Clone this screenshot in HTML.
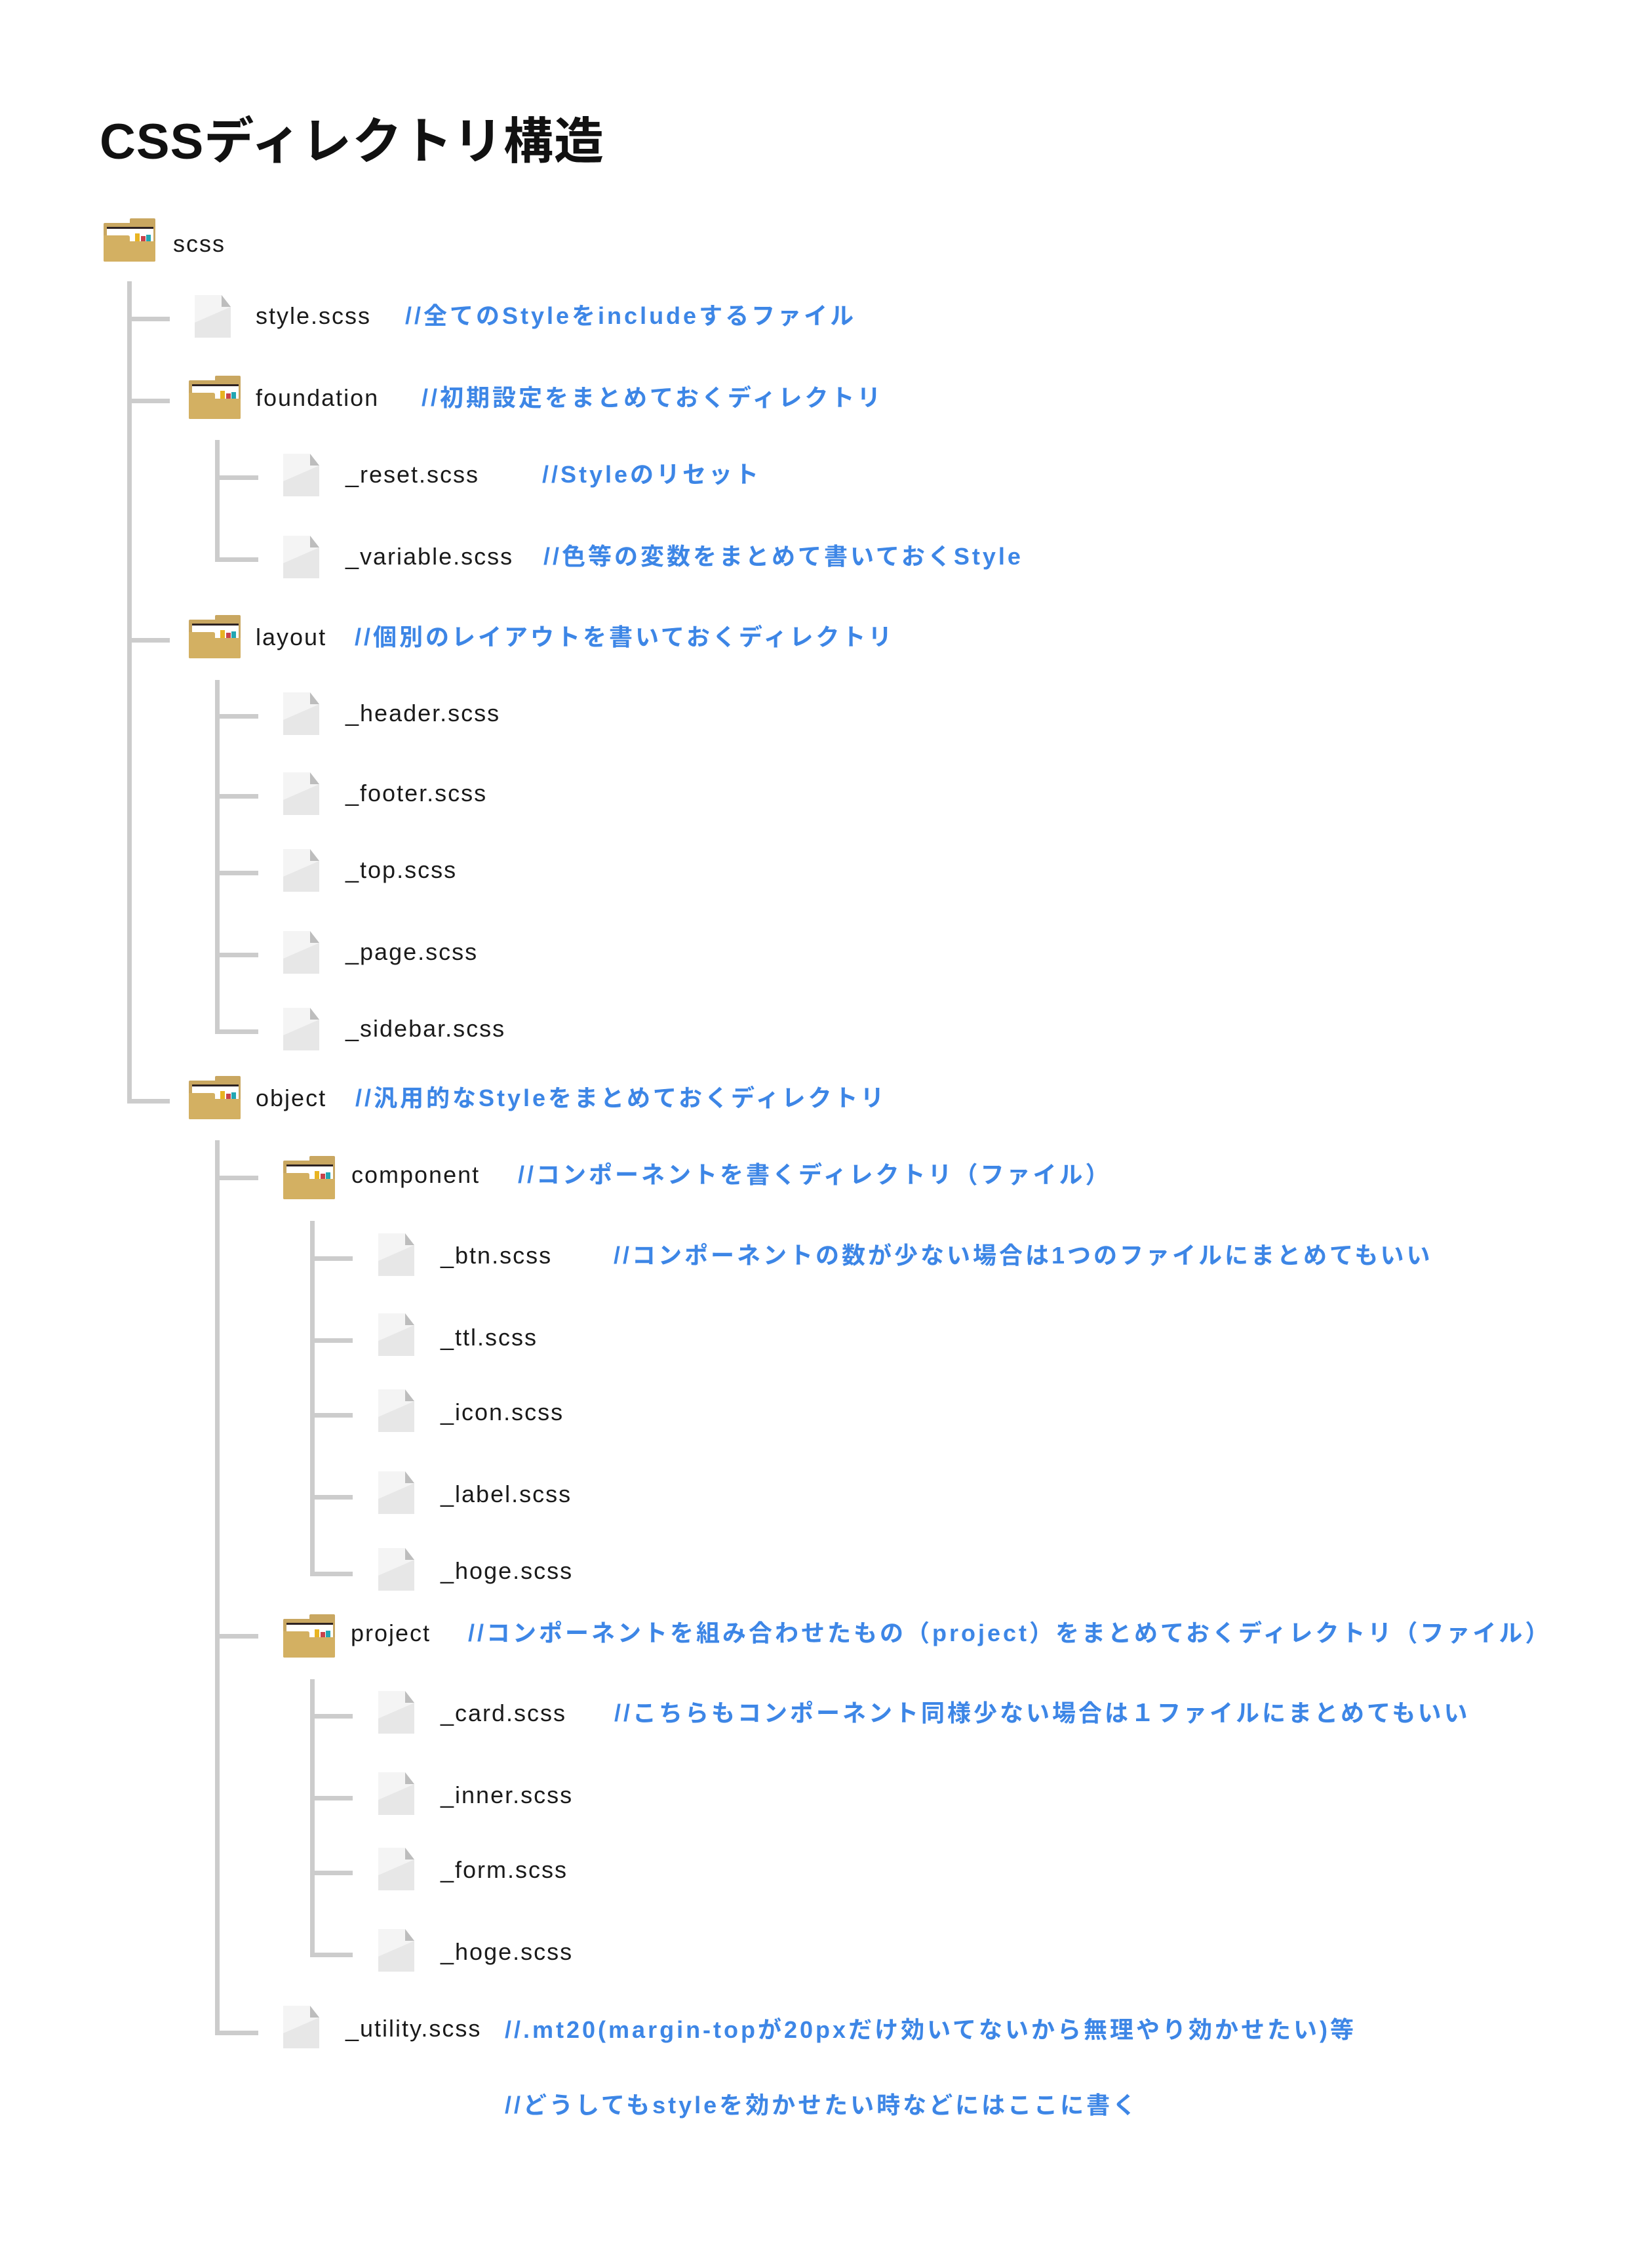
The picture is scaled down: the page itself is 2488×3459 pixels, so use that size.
<!DOCTYPE html>
<html><head><meta charset="utf-8"><style>
html,body{margin:0;padding:0;background:#fff;}
svg{display:block;}
.t{font-family:"Liberation Sans","Noto Sans CJK JP",sans-serif;font-size:36px;letter-spacing:2px;fill:#1a1a1a;}
.c{font-family:"Liberation Sans","Noto Sans CJK JP",sans-serif;font-size:36px;font-weight:bold;letter-spacing:4px;fill:#3d86e6;}
.h{font-family:"Liberation Sans","Noto Sans CJK JP",sans-serif;font-size:76px;font-weight:bold;letter-spacing:1px;fill:#111;}
.ln{fill:#cccccc;}
</style></head><body>
<svg width="2488" height="3459" viewBox="0 0 2488 3459" xmlns="http://www.w3.org/2000/svg">
<defs>
<g id="fold">
<rect x="40" y="0" width="39" height="12" rx="2" fill="#c9a761"/>
<rect x="0" y="7" width="79" height="59" rx="2" fill="#c9a761"/>
<rect x="5" y="13" width="71" height="3" fill="#2d2222"/>
<rect x="5" y="16" width="71" height="20" fill="#fff"/>
<rect x="48" y="23" width="7" height="13" fill="#e8b422"/>
<rect x="57" y="27" width="7" height="9" fill="#c8424a"/>
<rect x="65" y="25" width="7" height="11" fill="#22a6b3"/>
<path d="M0 26 H37 Q40 26 40 29 V35 H79 V64 Q79 66 77 66 H2 Q0 66 0 64 Z" fill="#d3b062"/>
</g>
<g id="file">
<path d="M0 0 H41 L55 18 V65 H0 Z" fill="#f4f4f4"/>
<path d="M0 42 L55 18 V65 H0 Z" fill="#e7e7e7"/>
<path d="M41 0 L41 18 L55 18 Z" fill="#bdbdbd"/>
</g>
</defs>

<text class="h" x="152" y="242">CSSディレクトリ構造</text>

<rect class="ln" x="194" y="429" width="7" height="1254"/>
<rect class="ln" x="328" y="671" width="7" height="186"/>
<rect class="ln" x="328" y="1037" width="7" height="540"/>
<rect class="ln" x="328" y="1739" width="7" height="1365"/>
<rect class="ln" x="473" y="1862" width="7" height="542"/>
<rect class="ln" x="473" y="2561" width="7" height="424"/>

<use href="#fold" x="158" y="333"/>
<text class="t" x="264" y="384">scss</text>

<rect class="ln" x="194" y="483" width="65" height="7"/>
<use href="#file" x="297" y="450"/>
<text class="t" x="390" y="494">style.scss</text>
<text class="c" x="618" y="494">//全てのStyleをincludeするファイル</text>

<rect class="ln" x="194" y="608" width="65" height="7"/>
<use href="#fold" x="288" y="573"/>
<text class="t" x="390" y="619">foundation</text>
<text class="c" x="643" y="619">//初期設定をまとめておくディレクトリ</text>

<rect class="ln" x="328" y="725" width="66" height="7"/>
<use href="#file" x="432" y="692"/>
<text class="t" x="527" y="736">_reset.scss</text>
<text class="c" x="827" y="736">//Styleのリセット</text>

<rect class="ln" x="328" y="850" width="66" height="7"/>
<use href="#file" x="432" y="817"/>
<text class="t" x="527" y="861">_variable.scss</text>
<text class="c" x="829" y="861">//色等の変数をまとめて書いておくStyle</text>

<rect class="ln" x="194" y="973" width="65" height="7"/>
<use href="#fold" x="288" y="938"/>
<text class="t" x="390" y="984">layout</text>
<text class="c" x="541" y="984">//個別のレイアウトを書いておくディレクトリ</text>

<rect class="ln" x="328" y="1089" width="66" height="7"/>
<use href="#file" x="432" y="1056"/>
<text class="t" x="527" y="1100">_header.scss</text>

<rect class="ln" x="328" y="1211" width="66" height="7"/>
<use href="#file" x="432" y="1178"/>
<text class="t" x="527" y="1222">_footer.scss</text>

<rect class="ln" x="328" y="1328" width="66" height="7"/>
<use href="#file" x="432" y="1295"/>
<text class="t" x="527" y="1339">_top.scss</text>

<rect class="ln" x="328" y="1453" width="66" height="7"/>
<use href="#file" x="432" y="1420"/>
<text class="t" x="527" y="1464">_page.scss</text>

<rect class="ln" x="328" y="1570" width="66" height="7"/>
<use href="#file" x="432" y="1537"/>
<text class="t" x="527" y="1581">_sidebar.scss</text>

<rect class="ln" x="194" y="1676" width="65" height="7"/>
<use href="#fold" x="288" y="1641"/>
<text class="t" x="390" y="1687">object</text>
<text class="c" x="542" y="1687">//汎用的なStyleをまとめておくディレクトリ</text>

<rect class="ln" x="328" y="1793" width="66" height="7"/>
<use href="#fold" x="432" y="1763"/>
<text class="t" x="536" y="1804">component</text>
<text class="c" x="790" y="1804">//コンポーネントを書くディレクトリ（ファイル）</text>

<rect class="ln" x="473" y="1916" width="65" height="7"/>
<use href="#file" x="577" y="1881"/>
<text class="t" x="672" y="1927">_btn.scss</text>
<text class="c" x="936" y="1927">//コンポーネントの数が少ない場合は1つのファイルにまとめてもいい</text>

<rect class="ln" x="473" y="2041" width="65" height="7"/>
<use href="#file" x="577" y="2003"/>
<text class="t" x="672" y="2052">_ttl.scss</text>

<rect class="ln" x="473" y="2155" width="65" height="7"/>
<use href="#file" x="577" y="2119"/>
<text class="t" x="672" y="2166">_icon.scss</text>

<rect class="ln" x="473" y="2280" width="65" height="7"/>
<use href="#file" x="577" y="2244"/>
<text class="t" x="672" y="2291">_label.scss</text>

<rect class="ln" x="473" y="2397" width="65" height="7"/>
<use href="#file" x="577" y="2361"/>
<text class="t" x="672" y="2408">_hoge.scss</text>

<rect class="ln" x="328" y="2492" width="66" height="7"/>
<use href="#fold" x="432" y="2462"/>
<text class="t" x="535" y="2503">project</text>
<text class="c" x="714" y="2503">//コンポーネントを組み合わせたもの（project）をまとめておくディレクトリ（ファイル）</text>

<rect class="ln" x="473" y="2614" width="65" height="7"/>
<use href="#file" x="577" y="2579"/>
<text class="t" x="672" y="2625">_card.scss</text>
<text class="c" x="937" y="2625">//こちらもコンポーネント同様少ない場合は１ファイルにまとめてもいい</text>

<rect class="ln" x="473" y="2739" width="65" height="7"/>
<use href="#file" x="577" y="2703"/>
<text class="t" x="672" y="2750">_inner.scss</text>

<rect class="ln" x="473" y="2853" width="65" height="7"/>
<use href="#file" x="577" y="2818"/>
<text class="t" x="672" y="2864">_form.scss</text>

<rect class="ln" x="473" y="2978" width="65" height="7"/>
<use href="#file" x="577" y="2942"/>
<text class="t" x="672" y="2989">_hoge.scss</text>

<rect class="ln" x="328" y="3097" width="66" height="7"/>
<use href="#file" x="432" y="3059"/>
<text class="t" x="527" y="3106">_utility.scss</text>
<text class="c" x="770" y="3108">//.mt20(margin-topが20pxだけ効いてないから無理やり効かせたい)等</text>
<text class="c" x="770" y="3223">//どうしてもstyleを効かせたい時などにはここに書く</text>
</svg>
</body></html>
